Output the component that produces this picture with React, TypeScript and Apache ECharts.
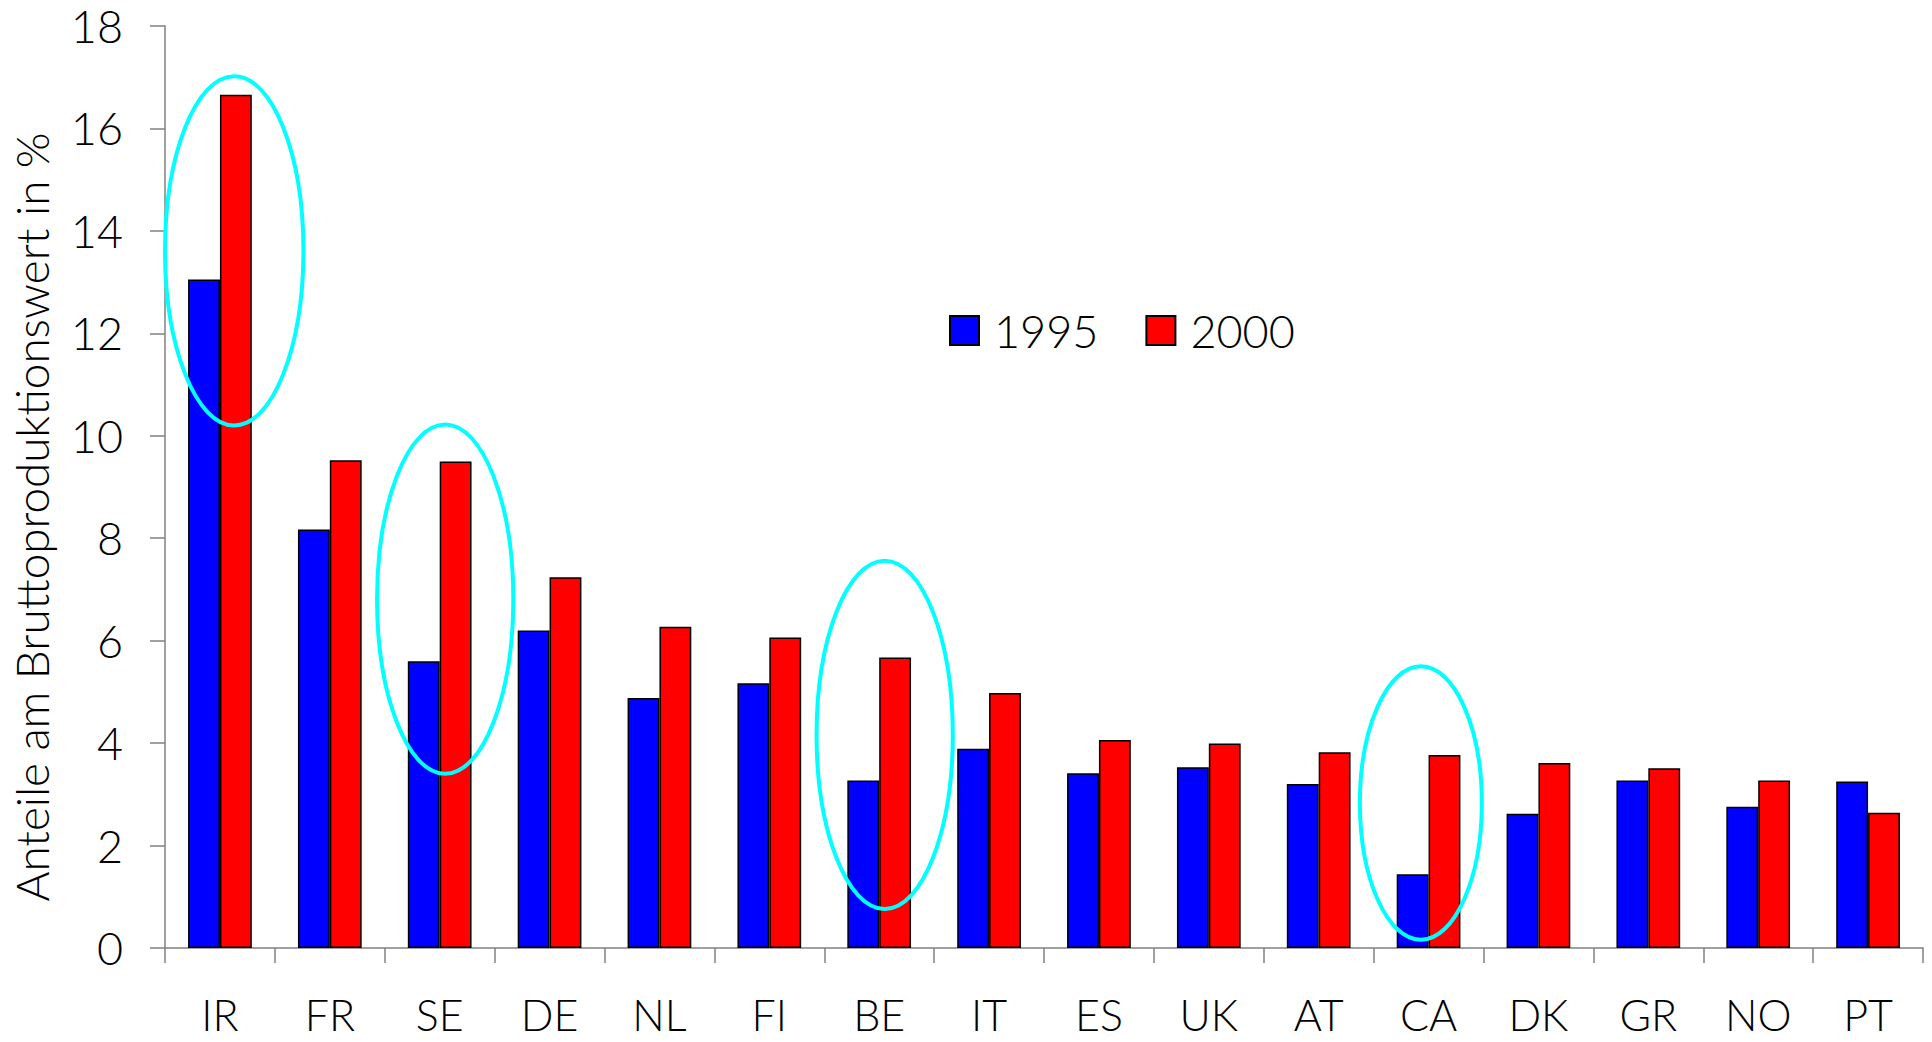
import React, { useEffect, useRef } from "react";
import * as echarts from "echarts";

const categories = ["IR", "FR", "SE", "DE", "NL", "FI", "BE", "IT", "ES", "UK", "AT", "CA", "DK", "GR", "NO", "PT"];
const values1995 = [13.05, 8.17, 5.6, 6.2, 4.88, 5.17, 3.27, 3.89, 3.41, 3.53, 3.2, 1.44, 2.62, 3.27, 2.76, 3.25];
const values2000 = [16.66, 9.52, 9.5, 7.24, 6.27, 6.06, 5.67, 4.98, 4.06, 3.99, 3.82, 3.77, 3.61, 3.51, 3.27, 2.64];
const seriesNames = ["1995", "2000"];
const yTicks = [0, 2, 4, 6, 8, 10, 12, 14, 16, 18];
const yTitle = "Anteile am Bruttoproduktionswert in %";

// highlight ellipses: category index, horizontal offset (in bands), half width (bands), value range
const ellipseCats = [0, 2, 6, 11];
const ellipseOffsets = [0.13, 0.05, 0.05, -0.07];
const ellipseHalfWidths = [0.63, 0.62, 0.62, 0.555];
const ellipseLow = [10.2, 3.4, 0.76, 0.16];
const ellipseHigh = [17.02, 10.22, 7.56, 5.5];

const FONT = "Lato";
const WEIGHT = 300;

export default function App() {
  const ref = useRef<HTMLDivElement>(null);
  useEffect(() => {
    if (!ref.current) return;
    const chart = echarts.init(ref.current, null, { renderer: "svg" });
    const axisColor = "#808080";
    chart.setOption({
      animation: false,
      backgroundColor: "#ffffff",
      grid: { left: 165, right: 9, top: 26, bottom: 94, containLabel: false },
      legend: {
        data: seriesNames,
        left: 944,
        top: 303,
        itemWidth: 29,
        itemHeight: 29,
        itemGap: 47,
        icon: "rect",
        textStyle: { fontFamily: FONT, fontWeight: WEIGHT, fontSize: 45, color: "#000", lineHeight: 44, padding: [0, 0, 0, 10] },
      },
      xAxis: {
        type: "category",
        data: categories,
        boundaryGap: true,
        axisLine: { lineStyle: { color: axisColor, width: 1.5 } },
        axisTick: { show: true, length: 15, lineStyle: { color: axisColor, width: 1.5 } },
        axisLabel: { fontFamily: FONT, fontWeight: WEIGHT, fontSize: 43, color: "#000", margin: 48, lineHeight: 36 },
      },
      yAxis: {
        type: "value",
        min: 0,
        max: yTicks[yTicks.length - 1],
        interval: 2,
        splitLine: { show: false },
        axisLine: { show: true, lineStyle: { color: axisColor, width: 1.5 } },
        axisTick: { show: true, length: 15, lineStyle: { color: axisColor, width: 1.5 } },
        axisLabel: { fontFamily: FONT, fontWeight: WEIGHT, fontSize: 45, color: "#000", margin: 42 },
      },
      series: [
        {
          name: seriesNames[0],
          type: "bar",
          data: values1995,
          barGap: "0%",
          barCategoryGap: "42%",
          itemStyle: { color: "#0000ff", borderColor: "#000", borderWidth: 1.5 },
        },
        {
          name: seriesNames[1],
          type: "bar",
          data: values2000,
          barGap: "0%",
          barCategoryGap: "42%",
          itemStyle: { color: "#ff0000", borderColor: "#000", borderWidth: 1.5 },
        },
      ],
    });

    const x0 = chart.convertToPixel({ xAxisIndex: 0 }, categories[0]) as number;
    const x1 = chart.convertToPixel({ xAxisIndex: 0 }, categories[1]) as number;
    const band = x1 - x0;
    const ellipses = ellipseCats.map((ci, i) => {
      const cx = (chart.convertToPixel({ xAxisIndex: 0 }, categories[ci]) as number) + ellipseOffsets[i] * band;
      const yLo = chart.convertToPixel({ yAxisIndex: 0 }, ellipseLow[i]) as number;
      const yHi = chart.convertToPixel({ yAxisIndex: 0 }, ellipseHigh[i]) as number;
      return {
        type: "ellipse",
        z: 100,
        silent: true,
        shape: { cx, cy: (yLo + yHi) / 2, rx: ellipseHalfWidths[i] * band, ry: Math.abs(yLo - yHi) / 2 },
        style: { fill: "none", stroke: "#00ffff", lineWidth: 4 },
      };
    });
    chart.setOption({
      graphic: [
        ...ellipses,
        {
          type: "text",
          x: 31,
          y: 517,
          rotation: Math.PI / 2,
          style: {
            text: yTitle,
            fontFamily: FONT,
            fontWeight: WEIGHT,
            fontSize: 45.8,
            fill: "#000",
            textAlign: "center",
            textVerticalAlign: "middle",
          },
        },
      ],
    });
    return () => chart.dispose();
  }, []);
  return <div ref={ref} style={{ position: "fixed", left: 0, top: 0, width: 1932, height: 1042 }} />;
}
